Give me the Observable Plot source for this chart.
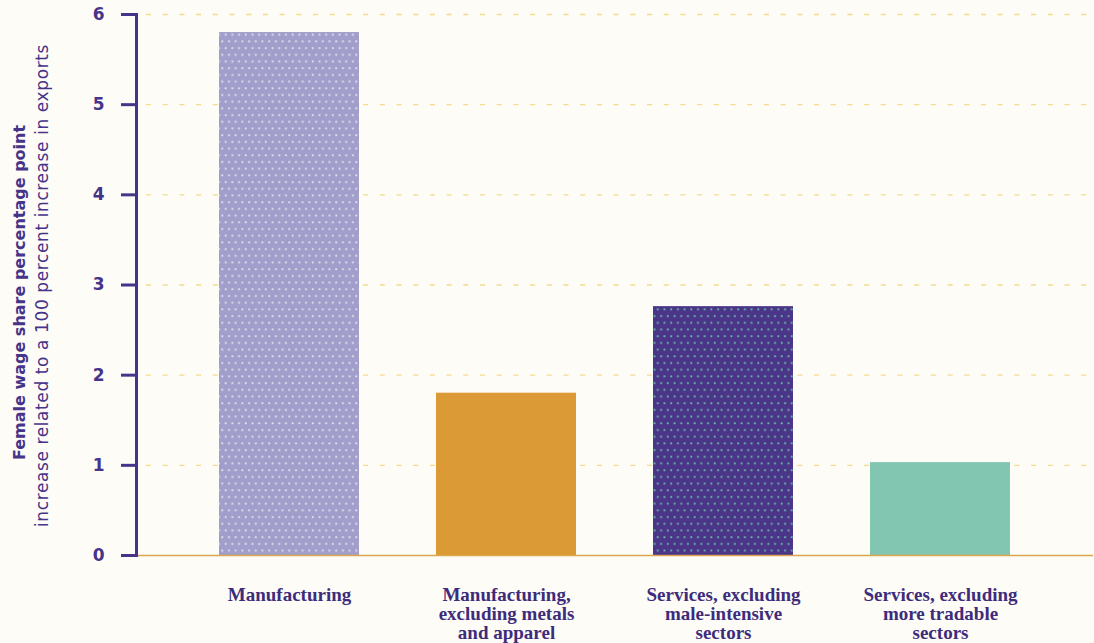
<!DOCTYPE html>
<html>
<head>
<meta charset="utf-8">
<script src="https://cdn.jsdelivr.net/npm/d3@7"></script>
<script src="https://cdn.jsdelivr.net/npm/@observablehq/plot@0.6"></script>
<style>
  html, body { margin: 0; padding: 0; background: #fdfcf6; }
  #chart { width: 1094px; height: 643px; overflow: hidden; }
</style>
</head>
<body>
<div id="chart"></div>
<script>
const categories = [
  "Manufacturing",
  "Manufacturing, excluding metals and apparel",
  "Services, excluding male-intensive sectors",
  "Services, excluding more tradable sectors"
];
const values = [5.8, 1.8, 2.76, 1.03];
const tickLabels = [
  "Manufacturing",
  "Manufacturing,\nexcluding metals\nand apparel",
  "Services, excluding\nmale-intensive\nsectors",
  "Services, excluding\nmore tradable\nsectors"
];
const yTicks = [0, 1, 2, 3, 4, 5, 6];
const gridTicks = [1, 2, 3, 4, 5, 6];
const titleLine1 = "Female wage share percentage point";
const titleLine2 = "increase related to a 100 percent increase in exports";

const purple = "#46338a";
const fills = ["url(#dotsLight)", "#dc9a36", "url(#dotsDark)", "#82c5b0"];

const data = categories.map((c, i) => ({category: c, value: values[i]}));
const labelOf = new Map(categories.map((c, i) => [c, tickLabels[i]]));

const plot = Plot.plot({
  width: 1094,
  height: 643,
  marginLeft: 136,
  marginRight: 1,
  marginTop: 14,
  marginBottom: 88,
  style: {background: "#fdfcf6", overflow: "visible"},
  x: {domain: categories, paddingInner: 0.355, paddingOuter: 0.3825, label: null},
  y: {domain: [0, 6], label: null},
  color: {type: "ordinal", domain: categories, range: fills},
  marks: [
    Plot.gridY(gridTicks, {stroke: "#f3d57a", strokeOpacity: 0.85, strokeWidth: 1.3, strokeDasharray: "5,11.7", strokeDashoffset: -10}),
    Plot.barY(data, {x: "category", y: "value", fill: "category"}),
    Plot.ruleY([0], {stroke: "#dca64e", strokeWidth: 1.6}),
    Plot.axisY(yTicks, {
      tickSize: 15, tickPadding: 17, stroke: purple, strokeWidth: 3,
      fill: purple, fontSize: 17, fontWeight: "bold", fontFamily: "'DejaVu Sans', sans-serif",
      tickFormat: d => String(d), label: null
    }),
    Plot.frame({anchor: "left", stroke: purple, strokeWidth: 3}),
    Plot.axisX({
      tickSize: 0, tickPadding: 32, fill: "#3d2c7b",
      fontSize: 19, fontWeight: "bold", fontFamily: "'Liberation Serif', serif",
      lineHeight: 1.0,
      tickFormat: d => labelOf.get(d), label: null
    })
  ]
});

const svg = d3.select(plot);
const defs = svg.insert("defs", ":first-child");
function dotPattern(id, bg, dot) {
  const p = defs.append("pattern").attr("id", id).attr("patternUnits", "userSpaceOnUse")
    .attr("width", 6.7).attr("height", 13.4);
  p.append("rect").attr("width", 6.7).attr("height", 13.4).attr("fill", bg);
  p.append("rect").attr("x", 0.3).attr("y", 0.3).attr("width", 1.8).attr("height", 1.8).attr("fill", dot);
  p.append("rect").attr("x", 3.65).attr("y", 7.0).attr("width", 1.8).attr("height", 1.8).attr("fill", dot);
}
dotPattern("dotsLight", "#a29ecb", "#e4e6ee");
dotPattern("dotsDark", "#4b3588", "#6cbfae");

const yScale = plot.scale("y");
const cy = (yScale.range[0] + yScale.range[1]) / 2;
const g = svg.append("g").attr("fill", purple).attr("font-family", "'DejaVu Sans', sans-serif").attr("text-anchor", "middle");
g.append("text").attr("transform", `translate(25,${cy + 8}) rotate(-90)`)
  .attr("font-size", 16).attr("font-weight", "bold").text(titleLine1);
g.append("text").attr("transform", `translate(48,${cy + 1}) rotate(-90)`)
  .attr("font-size", 17).attr("letter-spacing", 0.6).text(titleLine2);

document.getElementById("chart").appendChild(plot);
</script>
</body>
</html>
